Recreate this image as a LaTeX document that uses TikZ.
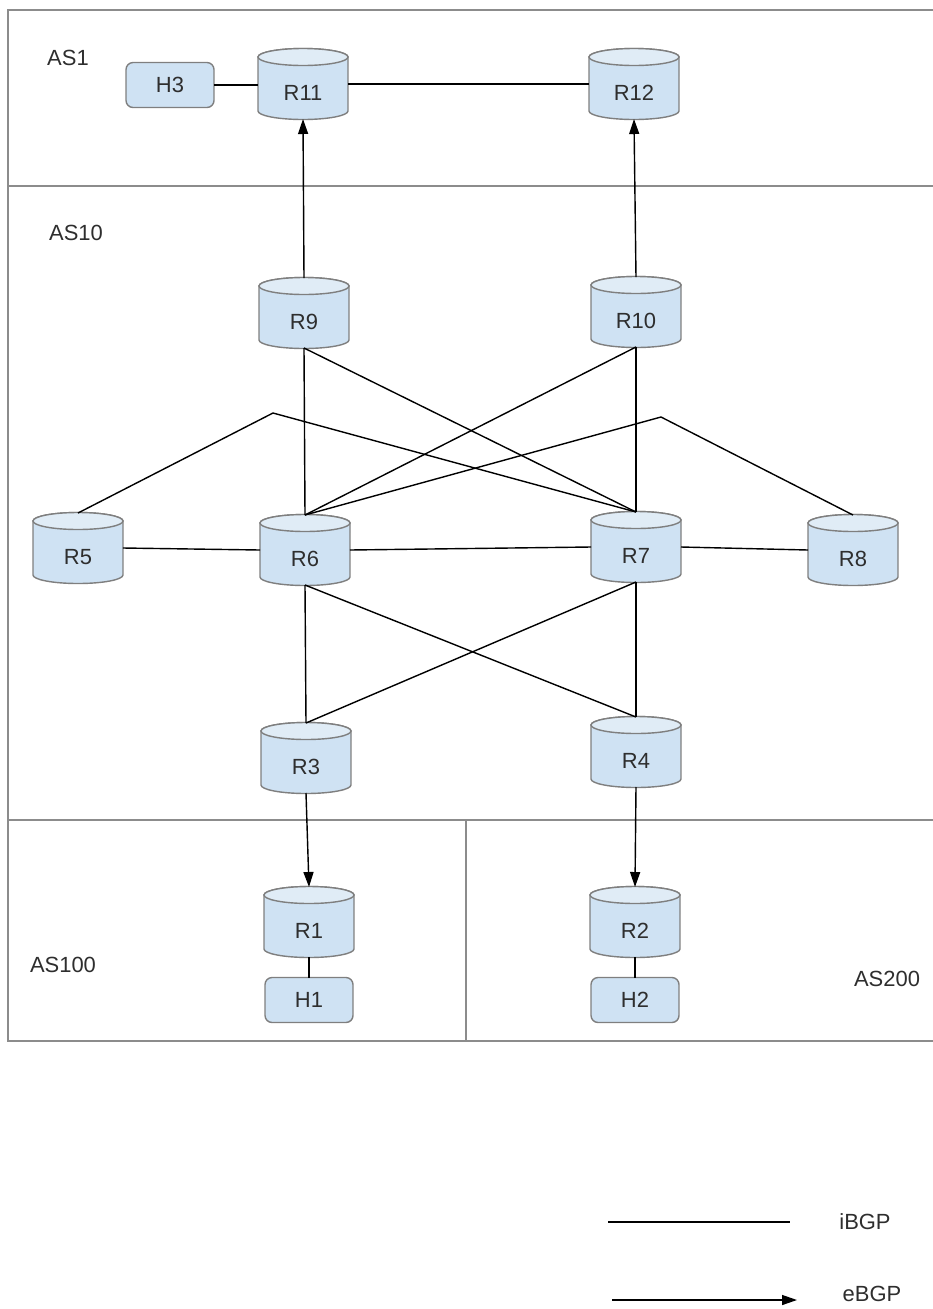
\documentclass[tikz,border=0pt]{standalone}
\usepackage{fontspec}
\setmainfont{Liberation Sans}
\usetikzlibrary{arrows.meta}
\definecolor{cylbody}{HTML}{CFE2F3}
\definecolor{cyltop}{HTML}{E0ECF6}
\definecolor{cylborder}{HTML}{7F7F7F}
\definecolor{framegray}{HTML}{8C8C8C}
\definecolor{txt}{HTML}{2E2E2E}
\newcommand\lab[1]{\raisebox{-9.5pt}[0pt][0pt]{#1}}
\begin{document}
\begin{tikzpicture}[x=0.02cm,y=-0.02cm,
  font=\fontsize{12.5}{15}\selectfont, text=txt,
  router/.style={draw=none,minimum width=1.8cm,minimum height=1.4cm,inner sep=0pt,outer sep=0pt},
  host/.style={draw=cylborder,fill=cylbody,line width=0.8pt,rounded corners=4pt,minimum width=1.76cm,minimum height=0.9cm,inner sep=0pt,outer sep=0pt},
  frame/.style={draw=framegray,line width=1.2pt},
  ibgp/.style={draw=black,line width=0.8pt},
  ebgp/.style={draw=black,line width=0.8pt,-{Triangle[length=0.3cm,width=0.2cm]}},
  aslabel/.style={inner sep=0pt}]
\useasboundingbox (0,0) rectangle (933,1309);
% frames
\draw[frame] (933,10) -- (8,10) -- (8,1041) -- (933,1041);
\draw[frame] (8,186) -- (933,186);
\draw[frame] (8,820) -- (933,820);
\draw[frame] (466,820) -- (466,1041);
% AS labels
\node[aslabel] (as1) at (68,58) {AS1};
\node[aslabel] (as10) at (76,233) {AS10};
\node[aslabel] (as100) at (63,965) {AS100};
\node[aslabel] (as200) at (887,979) {AS200};
% routers
\foreach \n/\X/\Y in {R11/303/84,R12/634/84,R9/304/313,R10/636/312,R5/78/548,R6/305/550,R7/636/547,R8/853/550,R3/306/758,R4/636/752,R1/309/922,R2/635/922}{
  \filldraw[fill=cylbody,draw=cylborder,line width=0.8pt]
    (\X-45,\Y-27) -- (\X-45,\Y+27)
    arc[start angle=180,end angle=360,x radius=0.9cm,y radius=0.17cm]
    -- (\X+45,\Y-27)
    arc[start angle=0,end angle=180,x radius=0.9cm,y radius=0.17cm] -- cycle;
  \filldraw[fill=cyltop,draw=cylborder,line width=0.8pt]
    (\X,\Y-27) ellipse[x radius=0.9cm,y radius=0.17cm];
  \node[router] (\n) at (\X,\Y) {\lab{\n}};
}
% hosts
\node[host] (H3) at (170,85) {H3};
\node[host] (H1) at (309,1000) {H1};
\node[host] (H2) at (635,1000) {H2};
% bend points
\coordinate (b1) at (273,413);
\coordinate (b2) at (661,417);
% iBGP links
\draw[ibgp] (H3.east) -- (H3.east -| R11.west);
\draw[ibgp] (R11.east) -- (R12.west);
\draw[ibgp] (R9.south) -- (R6.north);
\draw[ibgp] (R9.south) -- (R7.north);
\draw[ibgp] (R10.south) -- (R6.north);
\draw[ibgp] (R10.south) -- (R7.north);
\draw[ibgp] (R5.north) -- (b1) -- (R7.north);
\draw[ibgp] (R8.north) -- (b2) -- (R6.north);
\draw[ibgp] (R5.east) -- (R6.west);
\draw[ibgp] (R6.east) -- (R7.west);
\draw[ibgp] (R7.east) -- (R8.west);
\draw[ibgp] (R6.south) -- (R3.north);
\draw[ibgp] (R6.south) -- (R4.north);
\draw[ibgp] (R7.south) -- (R3.north);
\draw[ibgp] (R7.south) -- (R4.north);
\draw[ibgp] (R1.south) -- (H1.north);
\draw[ibgp] (R2.south) -- (H2.north);
% eBGP links
\draw[ebgp] (R9.north) -- (R11.south);
\draw[ebgp] (R10.north) -- (R12.south);
\draw[ebgp] (R3.south) -- (R1.north);
\draw[ebgp] (R4.south) -- (R2.north);
% legend
\coordinate (li1) at (608,1222);
\coordinate (li2) at (790,1222);
\coordinate (le1) at (612,1300);
\coordinate (le2) at (797,1300);
\draw[ibgp] (li1) -- (li2);
\draw[ebgp] (le1) -- (le2);
\node[aslabel] (libgp) at (865,1222) {iBGP};
\node[aslabel] (lebgp) at (872,1294) {eBGP};
\end{tikzpicture}
\end{document}
